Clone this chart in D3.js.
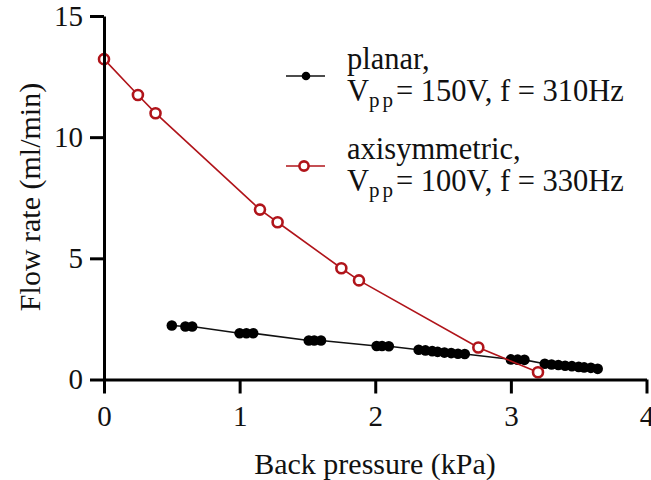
<!DOCTYPE html>
<html><head><meta charset="utf-8">
<script src="https://cdn.jsdelivr.net/npm/d3@7"></script>
<style>body{margin:0;background:#fff}svg{display:block}text{font-family:"Liberation Serif","Times New Roman",serif;fill:#111}</style>
</head><body>
<svg id="c" width="651" height="480"></svg>
<script>
// Planar, Vpp = 150V, f = 310Hz
const planarX = [0.50,0.60,0.65, 1.00,1.05,1.10, 1.51,1.55,1.60, 2.01,2.05,2.10,
  2.32,2.37,2.42,2.46,2.51,2.56,2.61,2.66, 3.00,3.05,3.10,
  3.25,3.30,3.35,3.40,3.45,3.50,3.54,3.59,3.64];
const planarY = [2.23,2.19,2.19, 1.91,1.91,1.91, 1.61,1.61,1.61, 1.38,1.38,1.37,
  1.23,1.20,1.17,1.14,1.11,1.09,1.06,1.05, 0.83,0.82,0.81,
  0.65,0.62,0.60,0.57,0.55,0.52,0.50,0.48,0.44];
// Axisymmetric, Vpp = 100V, f = 330Hz
const axiX = [0.00,0.25,0.38,1.15,1.28,1.75,1.88,2.76,3.20];
const axiY = [13.22,11.74,10.99,7.01,6.49,4.59,4.09,1.32,0.30];
const xTicks = [0,1,2,3,4];
const yTicks = [0,5,10,15];
const xLabel = "Back pressure (kPa)";
const yLabel = "Flow rate (ml/min)";

const svg = d3.select("#c");
const x = d3.scaleLinear().domain([0,4]).range([104,646.5]);
const y = d3.scaleLinear().domain([0,15]).range([379.5,16]);
const red = "#b0141a";

const planar = planarX.map((v,i)=>[v,planarY[i]]);
const axi = axiX.map((v,i)=>[v,axiY[i]]);
const line = d3.line().x(d=>x(d[0])).y(d=>y(d[1]));

svg.append("path").attr("d",line(planar)).attr("fill","none").attr("stroke","#111").attr("stroke-width",1.6);
svg.append("g").selectAll("circle").data(planar).join("circle")
  .attr("cx",d=>x(d[0])).attr("cy",d=>y(d[1])).attr("r",5.3).attr("fill","#000");
svg.append("path").attr("d",line(axi)).attr("fill","none").attr("stroke",red).attr("stroke-width",1.6);
svg.append("g").selectAll("circle").data(axi).join("circle")
  .attr("cx",d=>x(d[0])).attr("cy",d=>y(d[1])).attr("r",5).attr("fill","#fff")
  .attr("stroke",red).attr("stroke-width",2.6);

// axes
const xa = svg.append("g").attr("transform",`translate(0,${y(0)})`)
  .call(d3.axisBottom(x).tickValues(xTicks).tickFormat(d3.format("d")).tickSize(14).tickSizeOuter(0).tickPadding(12));
const ya = svg.append("g").attr("transform",`translate(${x(0)},0)`)
  .call(d3.axisLeft(y).tickValues(yTicks).tickFormat(d3.format("d")).tickSize(14).tickSizeOuter(0).tickPadding(7));
[xa,ya].forEach(g=>{
  g.select(".domain").attr("stroke","#000").attr("stroke-width",3);
  g.selectAll(".tick line").attr("stroke","#000").attr("stroke-width",3);
  g.selectAll(".tick text").attr("font-size",29).attr("fill","#111")
    .style("font-family",'"Liberation Serif","Times New Roman",serif');
});

svg.append("text").attr("x",375).attr("y",474).attr("text-anchor","middle").attr("font-size",30).text(xLabel);
svg.append("text").attr("transform","translate(40,197) rotate(-90)").attr("text-anchor","middle").attr("font-size",30).text(yLabel);

// legend
const legend = [
  {name:"planar,", v:"150V", f:"310Hz", y:76, type:"dot"},
  {name:"axisymmetric,", v:"100V", f:"330Hz", y:166, type:"ring"}
];
legend.forEach(l=>{
  const g = svg.append("g");
  const stroke = l.type==="dot" ? "#111" : red;
  g.append("line").attr("x1",286).attr("x2",325).attr("y1",l.y).attr("y2",l.y).attr("stroke",stroke).attr("stroke-width",1.6);
  if(l.type==="dot") g.append("circle").attr("cx",306).attr("cy",l.y).attr("r",4.3).attr("fill","#000");
  else g.append("circle").attr("cx",304).attr("cy",l.y).attr("r",4.6).attr("fill","#fff").attr("stroke",red).attr("stroke-width",2.6);
  g.append("text").attr("x",347).attr("y",l.y-7).attr("font-size",30.5).text(l.name);
  const t = g.append("text").attr("x",347).attr("y",l.y+25).attr("font-size",30.5);
  t.append("tspan").text("V");
  t.append("tspan").attr("font-size",21).attr("dy",6).attr("letter-spacing",3).text("pp");
  t.append("tspan").attr("dy",-6).text(`= ${l.v}, f = ${l.f}`);
});
</script>
</body></html>
